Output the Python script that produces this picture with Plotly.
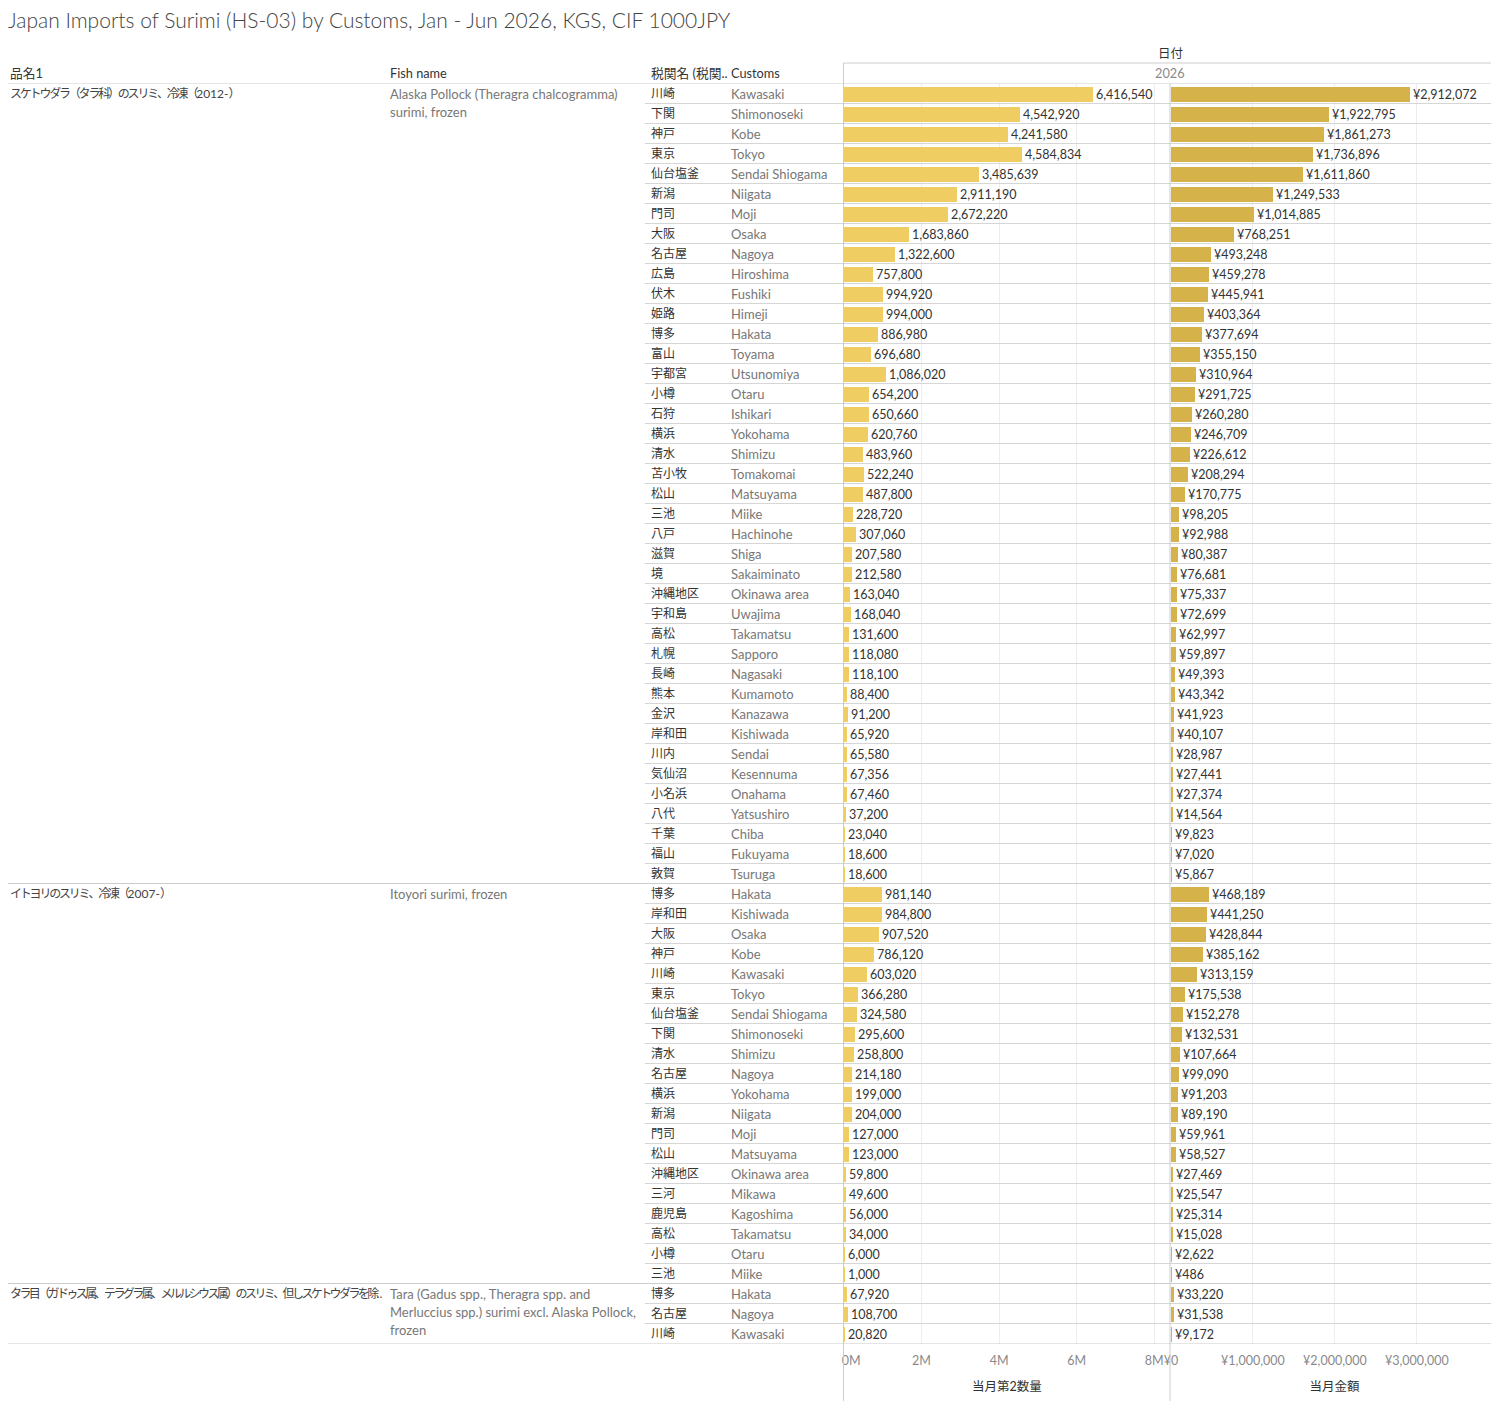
import plotly.graph_objects as go

# the page body keeps its default 8px margin, so the figure is drawn 8px in
OFF = 8
W, H = 1499 - OFF, 1401 - OFF

title = "Japan Imports of Surimi (HS-03) by Customs, Jan - Jun 2026, KGS, CIF 1000JPY"

# column headers
col_headers = ["品名1", "Fish name", "税関名 (税関..", "Customs"]
date_header = "日付"
year_label = "2026"

# product groups
product_jp = [
    "スケトウダラ（タラ科）のスリミ、冷凍（2012-）",
    "イトヨリのスリミ、冷凍（2007-）",
    "タラ目（ガドゥス属、テラグラ属、メルルシウス属）のスリミ、但しスケトウダラを除..",
]
product_en = [
    ["Alaska Pollock (Theragra chalcogramma)", "surimi, frozen"],
    ["Itoyori surimi, frozen"],
    ["Tara (Gadus spp., Theragra spp. and", "Merluccius spp.) surimi excl. Alaska Pollock,", "frozen"],
]

# group 1: Alaska Pollock
customs_jp_1 = ["川崎", "下関", "神戸", "東京", "仙台塩釜", "新潟", "門司", "大阪", "名古屋", "広島",
                "伏木", "姫路", "博多", "富山", "宇都宮", "小樽", "石狩", "横浜", "清水", "苫小牧",
                "松山", "三池", "八戸", "滋賀", "境", "沖縄地区", "宇和島", "高松", "札幌", "長崎",
                "熊本", "金沢", "岸和田", "川内", "気仙沼", "小名浜", "八代", "千葉", "福山", "敦賀"]
customs_en_1 = ["Kawasaki", "Shimonoseki", "Kobe", "Tokyo", "Sendai Shiogama", "Niigata", "Moji", "Osaka",
                "Nagoya", "Hiroshima", "Fushiki", "Himeji", "Hakata", "Toyama", "Utsunomiya", "Otaru",
                "Ishikari", "Yokohama", "Shimizu", "Tomakomai", "Matsuyama", "Miike", "Hachinohe", "Shiga",
                "Sakaiminato", "Okinawa area", "Uwajima", "Takamatsu", "Sapporo", "Nagasaki", "Kumamoto",
                "Kanazawa", "Kishiwada", "Sendai", "Kesennuma", "Onahama", "Yatsushiro", "Chiba",
                "Fukuyama", "Tsuruga"]
qty_1 = [6416540, 4542920, 4241580, 4584834, 3485639, 2911190, 2672220, 1683860, 1322600, 757800,
         994920, 994000, 886980, 696680, 1086020, 654200, 650660, 620760, 483960, 522240,
         487800, 228720, 307060, 207580, 212580, 163040, 168040, 131600, 118080, 118100,
         88400, 91200, 65920, 65580, 67356, 67460, 37200, 23040, 18600, 18600]
amt_1 = [2912072, 1922795, 1861273, 1736896, 1611860, 1249533, 1014885, 768251, 493248, 459278,
         445941, 403364, 377694, 355150, 310964, 291725, 260280, 246709, 226612, 208294,
         170775, 98205, 92988, 80387, 76681, 75337, 72699, 62997, 59897, 49393,
         43342, 41923, 40107, 28987, 27441, 27374, 14564, 9823, 7020, 5867]

# group 2: Itoyori
customs_jp_2 = ["博多", "岸和田", "大阪", "神戸", "川崎", "東京", "仙台塩釜", "下関", "清水", "名古屋",
                "横浜", "新潟", "門司", "松山", "沖縄地区", "三河", "鹿児島", "高松", "小樽", "三池"]
customs_en_2 = ["Hakata", "Kishiwada", "Osaka", "Kobe", "Kawasaki", "Tokyo", "Sendai Shiogama",
                "Shimonoseki", "Shimizu", "Nagoya", "Yokohama", "Niigata", "Moji", "Matsuyama",
                "Okinawa area", "Mikawa", "Kagoshima", "Takamatsu", "Otaru", "Miike"]
qty_2 = [981140, 984800, 907520, 786120, 603020, 366280, 324580, 295600, 258800, 214180,
         199000, 204000, 127000, 123000, 59800, 49600, 56000, 34000, 6000, 1000]
amt_2 = [468189, 441250, 428844, 385162, 313159, 175538, 152278, 132531, 107664, 99090,
         91203, 89190, 59961, 58527, 27469, 25547, 25314, 15028, 2622, 486]

# group 3: Tara
customs_jp_3 = ["博多", "名古屋", "川崎"]
customs_en_3 = ["Hakata", "Nagoya", "Kawasaki"]
qty_3 = [67920, 108700, 20820]
amt_3 = [33220, 31538, 9172]

qty_ticks = [0, 2e6, 4e6, 6e6, 8e6]
qty_ticktext = ["0M", "2M", "4M", "6M", "8M"]
amt_ticks = [0, 1e6, 2e6, 3e6]
amt_ticktext = ["¥0", "¥1,000,000", "¥2,000,000", "¥3,000,000"]
qty_title = "当月第2数量"
amt_title = "当月金額"

groups = [
    (customs_jp_1, customs_en_1, qty_1, amt_1),
    (customs_jp_2, customs_en_2, qty_2, amt_2),
    (customs_jp_3, customs_en_3, qty_3, amt_3),
]

cjp, cen, qty, amt, starts = [], [], [], [], []
for g in groups:
    starts.append(len(cjp))
    cjp += g[0]
    cen += g[1]
    qty += g[2]
    amt += g[3]
n = len(cjp)
rows = list(range(n))

FONT = "Lato, 'Noto Sans CJK JP', sans-serif"
DARK = "#333333"
GREY = "#777777"
LINE = "#d6d6d6"
PAD = "\u2007\u2007"  # nudges the first tick label off the panel edge, like the original


def px(x):
    return (x - OFF) / W


def py(y):
    return 1 - (y - OFF) / H


def narrow_cjk(s, ls):
    # squeeze the full-width runs so the long names fit their column
    out, run, wide = "", "", None
    for ch in s + "\0":
        w = ord(ch) > 0x2E80
        if ch == "\0" or (wide is not None and w != wide):
            if run:
                out += '<span style="letter-spacing:%spx">%s</span>' % (ls, run) if wide else run
            run = ""
        run += ch
        wide = w
    return out


fig = go.Figure()
fig.add_trace(go.Bar(
    x=qty, y=rows, orientation="h", width=0.75,
    marker=dict(color="#F0CD63", line=dict(width=0)),
    texttemplate="%{x:,}", textposition="outside", cliponaxis=False,
    textfont=dict(color=DARK, size=12.5), xaxis="x", yaxis="y", hoverinfo="skip",
))
fig.add_trace(go.Bar(
    x=amt, y=rows, orientation="h", width=0.75,
    marker=dict(color="#D5B34A", line=dict(width=0)),
    texttemplate="¥%{x:,}", textposition="outside", cliponaxis=False,
    textfont=dict(color=DARK, size=12.5), xaxis="x2", yaxis="y", hoverinfo="skip",
))

axis_common = dict(showline=False, zeroline=False, showgrid=True, gridcolor="#ededed",
                   gridwidth=1, ticks="", tickfont=dict(color="#8a8a8a", size=12.5),
                   ticklabelstandoff=8, automargin=False, fixedrange=True)
fig.update_layout(
    width=W, height=H,
    margin=dict(l=0, r=0, t=0, b=0, autoexpand=False),
    paper_bgcolor="white", plot_bgcolor="white",
    font=dict(family=FONT, color=DARK, size=12),
    showlegend=False,
    bargap=0,
    title=dict(text=title, x=0, xanchor="left", y=py(21), yanchor="middle",
               font=dict(size=21, color="#444444", weight=300)),
    xaxis=dict(domain=[px(844), px(1170)], range=[0, 8.41e6], anchor="y",
               tickvals=qty_ticks, ticktext=[PAD + qty_ticktext[0]] + qty_ticktext[1:],
               title=dict(text=qty_title, standoff=15, font=dict(size=12.5, color=DARK)),
               **axis_common),
    xaxis2=dict(domain=[px(1171), px(1498)], range=[0, 3.99e6], anchor="y",
                tickvals=amt_ticks, ticktext=amt_ticktext,
                title=dict(text=amt_title, standoff=15, font=dict(size=12.5, color=DARK)),
                **axis_common),
    yaxis=dict(domain=[py(1343.5), py(83.5)], range=[n - 0.5, -0.5], visible=False,
               automargin=False, fixedrange=True),
)

ann = []
# headers
for text, xpos in zip(col_headers, [8, 388, 649, 729]):
    ann.append(dict(text=text, x=px(xpos), y=py(73), xref="paper", yref="paper",
                    xanchor="left", yanchor="middle", showarrow=False,
                    font=dict(size=12.75, color=DARK)))
ann.append(dict(text=date_header, x=px(1170), y=py(53), xref="paper", yref="paper",
                xanchor="center", yanchor="middle", showarrow=False, font=dict(size=12.5, color=DARK)))
ann.append(dict(text=year_label, x=px(1170), y=py(73), xref="paper", yref="paper",
                xanchor="center", yanchor="middle", showarrow=False, font=dict(size=12.75, color="#8a8a8a")))

# customs names
for i in rows:
    ann.append(dict(text=cjp[i], x=px(649), y=i, xref="paper", yref="y",
                    xanchor="left", yanchor="middle", showarrow=False, font=dict(size=12, color=DARK)))
    ann.append(dict(text=cen[i], x=px(729), y=i, xref="paper", yref="y",
                    xanchor="left", yanchor="middle", showarrow=False, font=dict(size=13, color=GREY)))

# product names
for s, jp, en_lines in zip(starts, product_jp, product_en):
    ls = -2.6 if len(jp) > 30 else -2.2
    ann.append(dict(text=narrow_cjk(jp, ls), x=px(8), y=s, xref="paper", yref="y",
                    xanchor="left", yanchor="middle", showarrow=False,
                    font=dict(size=12, color="#444444")))
    for k, line in enumerate(en_lines):
        ann.append(dict(text=line, x=px(388), y=s + 0.9 * k, xref="paper", yref="y",
                        xanchor="left", yanchor="middle", showarrow=False,
                        font=dict(size=13, color=GREY)))

shapes = []
bounds = starts + [n]
for i in range(1, n):
    if i not in bounds:
        shapes.append(dict(type="line", xref="paper", yref="y", x0=px(645), x1=1,
                           y0=i - 0.5, y1=i - 0.5, line=dict(color=LINE, width=1)))
for b in bounds:
    shapes.append(dict(type="line", xref="paper", yref="y", x0=0, x1=1,
                       y0=b - 0.5, y1=b - 0.5, line=dict(color="#cccccc", width=1)))
shapes.append(dict(type="line", xref="paper", yref="paper", x0=px(843.5), x1=1,
                   y0=py(63), y1=py(63), line=dict(color="#cccccc", width=1)))
shapes.append(dict(type="line", xref="paper", yref="paper", x0=px(843.5), x1=px(843.5),
                   y0=py(63), y1=0, line=dict(color="#cccccc", width=1)))
shapes.append(dict(type="line", xref="paper", yref="paper", x0=px(1170), x1=px(1170),
                   y0=py(83.5), y1=0, line=dict(color="#cccccc", width=1)))

fig.update_layout(annotations=ann, shapes=shapes)

fig.write_html("out.html")
